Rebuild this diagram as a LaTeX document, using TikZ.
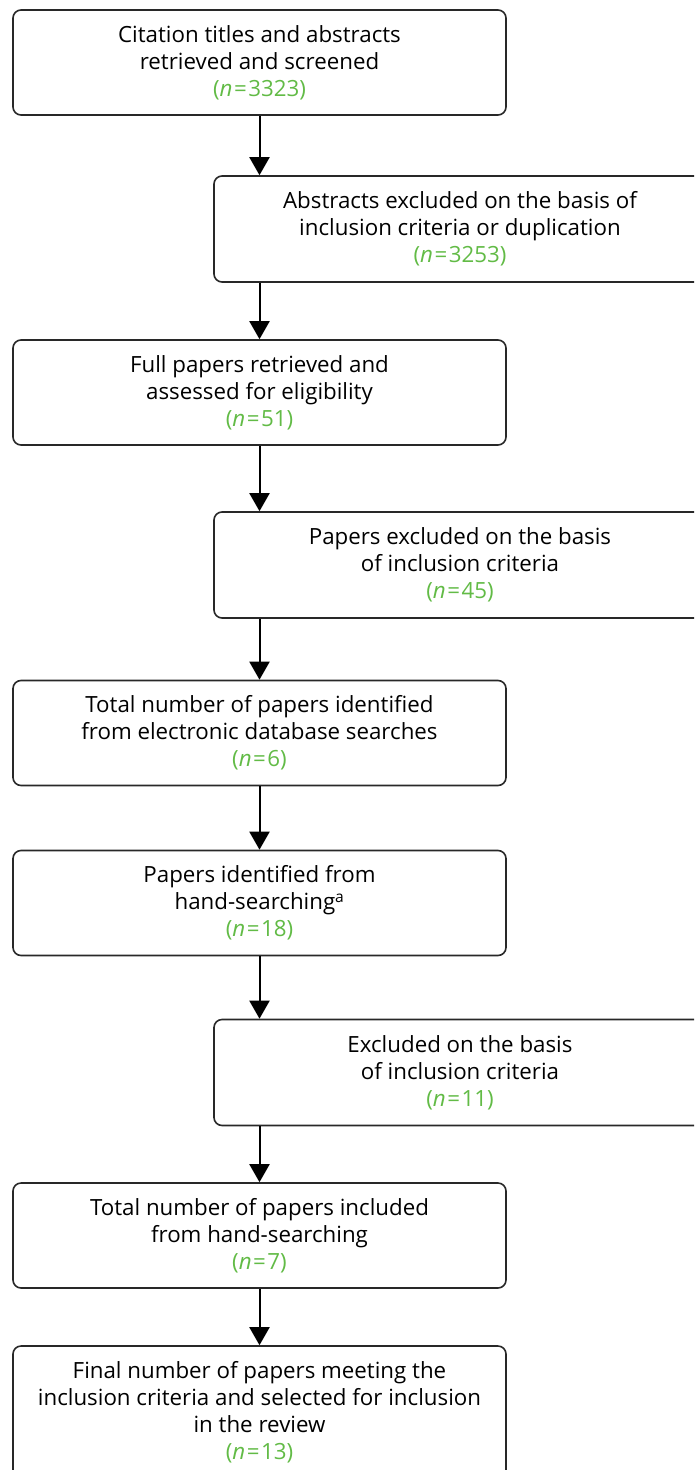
\documentclass[tikz,border=0pt]{standalone}
\usepackage{fontspec}
\setmainfont{Open Sans}
\usetikzlibrary{arrows.meta}
\definecolor{ngreen}{RGB}{98,187,70}
\definecolor{edge}{RGB}{40,40,40}
\newcommand{\ncount}[1]{\\{\color{ngreen}(\textit{n}\kern1.5pt=\kern1.5pt#1)}}
\begin{document}
\begin{tikzpicture}[x=1pt,y=-1pt,
  flowbox/.style={draw=edge,line width=1.6pt,rounded corners=8pt,
    align=center,inner sep=0pt,text=black,
    font=\fontsize{22.3}{27}\selectfont},
  leftbox/.style={flowbox,minimum width=493pt,minimum height=105pt},
  rightbox/.style={flowbox,minimum width=492pt,minimum height=106pt},
  arr/.style={line width=2pt,-{Triangle[width=20pt,length=18pt]}}]
\useasboundingbox (0,0) rectangle (694,1470);
\clip (0,0) rectangle (694,1470);
\fill[white] (0,0) rectangle (694,1470);

\node[leftbox] (b1) at (259.5,62.5)
  {Citation titles and abstracts\\retrieved and screened\ncount{3323}};
\node[rightbox] (b2) at (460,229)
  {Abstracts excluded on the basis of\\inclusion criteria or duplication\ncount{3253}};
\node[leftbox] (b3) at (259.5,392.5)
  {Full papers retrieved and\\assessed for eligibility\ncount{51}};
\node[rightbox] (b4) at (460,565)
  {Papers excluded on the basis\\of inclusion criteria\ncount{45}};
\node[leftbox] (b5) at (259.5,733)
  {Total number of papers identified\\from electronic database searches\ncount{6}};
\node[leftbox] (b6) at (259.5,903)
  {Papers identified from\\hand-searching\textsuperscript{a}\ncount{18}};
\node[rightbox] (b7) at (460,1072.5)
  {Excluded on the basis\\of inclusion criteria\ncount{11}};
\node[leftbox] (b8) at (259.5,1235.5)
  {Total number of papers included\\from hand-searching\ncount{7}};
\node[flowbox,minimum width=493pt,minimum height=132pt] (b9) at (259.5,1412)
  {Final number of papers meeting the\\inclusion criteria and selected for inclusion\\in the review\ncount{13}};

\draw[arr] (b1.south) -- (b1.south |- b2.north);
\draw[arr] (b3.north |- b2.south) -- (b3.north);
\draw[arr] (b3.south) -- (b3.south |- b4.north);
\draw[arr] (b5.north |- b4.south) -- (b5.north);
\draw[arr] (b5.south) -- (b6.north);
\draw[arr] (b6.south) -- (b6.south |- b7.north);
\draw[arr] (b8.north |- b7.south) -- (b8.north);
\draw[arr] (b8.south) -- (b9.north);
\end{tikzpicture}
\end{document}
